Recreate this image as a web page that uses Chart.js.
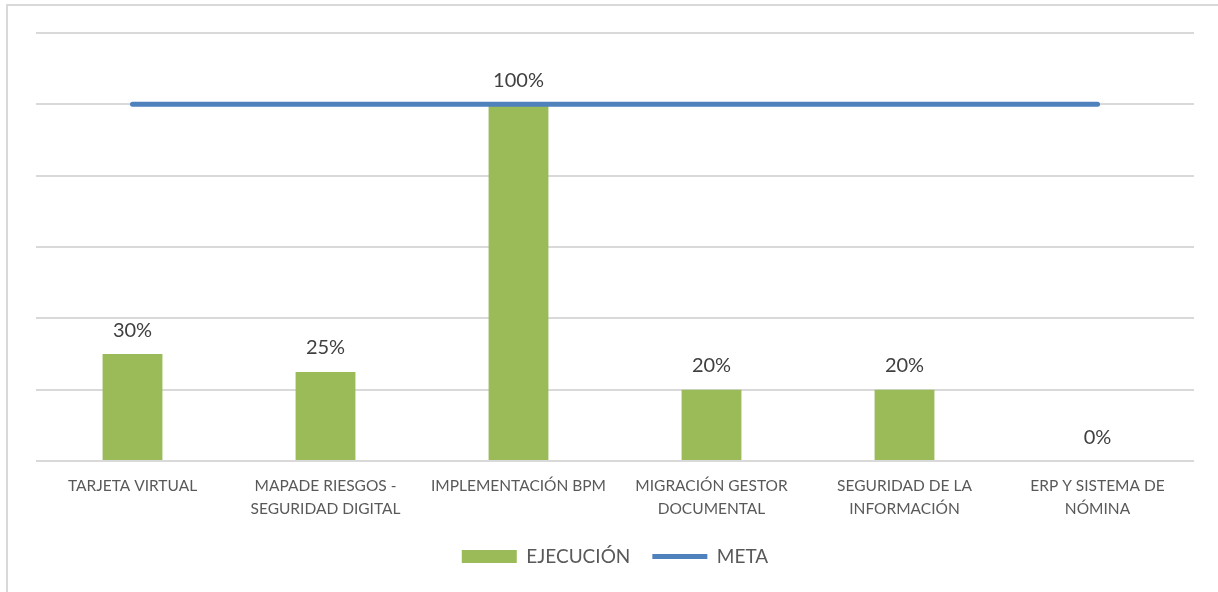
<!DOCTYPE html>
<html>
<head>
<meta charset="utf-8">
<script src="https://cdn.jsdelivr.net/npm/chart.js@4/dist/chart.umd.min.js"></script>
<style>
  html, body { margin: 0; padding: 0; background: #fff; }
  #wrap { position: relative; width: 1218px; height: 592px; }
  #frame {
    position: absolute; left: 6px; top: 4px; right: 0; bottom: 0;
    border-top: 2px solid #d9d9d9; border-left: 2px solid #d9d9d9;
  }
  canvas { position: absolute; left: 0; top: 0; }
</style>
</head>
<body>
<div id="wrap">
  <div id="frame"></div>
  <canvas id="chart" width="1218" height="592"></canvas>
</div>
<script>
const proyectos = [
  'TARJETA VIRTUAL',
  ['MAPADE RIESGOS -', 'SEGURIDAD DIGITAL'],
  'IMPLEMENTACIÓN BPM',
  ['MIGRACIÓN GESTOR', 'DOCUMENTAL'],
  ['SEGURIDAD DE LA', 'INFORMACIÓN'],
  ['ERP Y SISTEMA DE', 'NÓMINA']
];
const ejecucion = [30, 25, 100, 20, 20, 0];
const meta = [100, 100, 100, 100, 100, 100];

// etiquetas de porcentaje encima de cada barra
const etiquetasBarras = {
  id: 'etiquetasBarras',
  afterDatasetsDraw(chart) {
    const ctx = chart.ctx;
    const meta0 = chart.getDatasetMeta(0);
    ctx.save();
    ctx.font = '20px Lato';
    ctx.fillStyle = '#404040';
    ctx.textAlign = 'center';
    ctx.textBaseline = 'middle';
    meta0.data.forEach((bar, i) => {
      ctx.fillText(ejecucion[i] + '%', bar.x, bar.y - 24);
    });
    ctx.restore();
  }
};

new Chart(document.getElementById('chart'), {
  type: 'bar',
  data: {
    labels: proyectos,
    datasets: [
      {
        label: 'EJECUCIÓN',
        data: ejecucion,
        backgroundColor: '#9BBB59',
        borderWidth: 0,
        categoryPercentage: 1,
        barPercentage: 0.31,
        pointStyle: 'rect',
        order: 2
      },
      {
        type: 'line',
        label: 'META',
        data: meta,
        borderColor: '#4F81BD',
        backgroundColor: '#4F81BD',
        borderWidth: 5,
        borderCapStyle: 'round',
        pointRadius: 0,
        pointStyle: 'line',
        order: 1
      }
    ]
  },
  options: {
    responsive: false,
    animation: false,
    layout: { padding: { left: 36, right: 24, top: 33, bottom: 16 } },
    plugins: {
      tooltip: { enabled: false },
      legend: {
        position: 'bottom',
        labels: {
          usePointStyle: true,
          pointStyleWidth: 55,
          boxHeight: 13,
          padding: 22,
          color: '#595959',
          font: { family: 'Lato', size: 19 },
          sort: (a, b) => a.datasetIndex - b.datasetIndex
        }
      }
    },
    scales: {
      x: {
        grid: { display: false },
        border: { display: false },
        ticks: {
          color: '#595959',
          font: { family: 'Lato', size: 15.5, lineHeight: 1.48 },
          padding: 5,
          maxRotation: 0,
          autoSkip: false
        }
      },
      y: {
        min: 0,
        max: 120,
        ticks: { display: false, stepSize: 20 },
        border: { display: false },
        grid: { color: '#d9d9d9', lineWidth: 2, drawTicks: false }
      }
    }
  },
  plugins: [etiquetasBarras]
});
</script>
</body>
</html>
